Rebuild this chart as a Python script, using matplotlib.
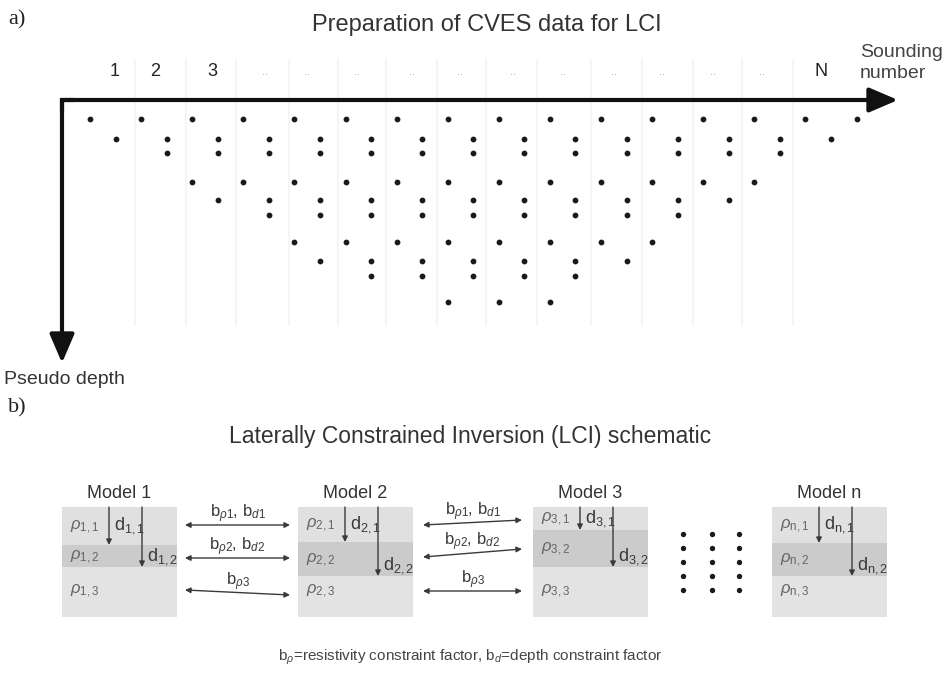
import numpy as np
import matplotlib.pyplot as plt
from matplotlib.patches import Rectangle, FancyArrowPatch

plt.rcParams['font.family'] = ['Liberation Sans', 'DejaVu Sans']
plt.rcParams['mathtext.fontset'] = 'custom'
plt.rcParams['mathtext.rm'] = 'Liberation Sans'
plt.rcParams['mathtext.it'] = 'Liberation Sans:italic'

W, H = 947, 673

# a) pseudosección: niveles de profundidad (px bajo el eje) y rango de posiciones
#    (en medios pasos de sondeo) de cada fila de datos
niveles = [19, 39, 53, 82, 100, 115, 142, 161, 176, 202]
inicio = [0, 1, 3, 4, 5, 7, 8, 9, 11, 14]
fin = [30, 29, 27, 26, 25, 23, 22, 21, 19, 18]

# etiquetas de los sondeos y su posición (medios pasos)
etiquetas = ['1', '2', '3'] + ['..'] * 11 + ['N']
pos_etiquetas = [0.95, 2.55, 4.8, 6.85, 8.5, 10.45, 12.6, 14.5, 16.55,
                 18.5, 20.5, 22.4, 24.4, 26.3, 28.6]
separadores = [1.75, 3.75, 5.7, 7.8, 9.7, 11.6, 13.6, 15.5, 17.5, 19.6,
               21.6, 23.6, 25.5, 27.5]

# b) modelos LCI: profundidad de las interfaces (px bajo el techo de la caja)
modelos = ['1', '2', '3', 'n']
interfaz1 = [38, 35, 23, 36]
interfaz2 = [60, 69, 60, 69]

fig = plt.figure(figsize=(W / 100, H / 100), dpi=100)

# ---------------- panel a (puntos) ----------------
X0, PASO = 90, 25.55
axa = fig.add_axes([62 / W, 1 - 380 / H, 835 / W, 340 / H])
axa.set_xlim((62 - X0) / PASO, (897 - X0) / PASO)
axa.set_ylim(280, -60)
axa.axis('off')
axa.set_zorder(0)

ax = fig.add_axes([0, 0, 1, 1])
ax.set_xlim(0, W)
ax.set_ylim(H, 0)
ax.axis('off')
ax.set_zorder(1)

GRIS = '#3a3a3a'

for s in separadores:
    axa.plot([s, s], [-40, 225], color='#f5f5f5', lw=1.5, zorder=0)

for y, a, b in zip(niveles, inicio, fin):
    xs = np.arange(a, b + 1, 2)
    axa.scatter(xs, [y] * len(xs), s=10, color='#1a1a1a', zorder=3)

for t, p in zip(etiquetas, pos_etiquetas):
    if t == '..':
        axa.text(p, -28, t, ha='center', va='center', fontsize=8, color='#a0a0a0')
    else:
        axa.text(p, -28, t, ha='center', va='center', fontsize=13, color='#222222')

# ejes con flechas
ax.annotate('', xy=(898, 100), xytext=(62, 100),
            arrowprops=dict(arrowstyle='-|>,head_length=0.7,head_width=0.3',
                            lw=3, color='#111111', mutation_scale=25,
                            shrinkA=0, shrinkB=0))
ax.annotate('', xy=(62, 363), xytext=(62, 100),
            arrowprops=dict(arrowstyle='-|>,head_length=0.7,head_width=0.3',
                            lw=3, color='#111111', mutation_scale=25,
                            shrinkA=0, shrinkB=0))
ax.plot([62, 62, 72], [110, 100, 100], lw=3, color='#111111',
        solid_joinstyle='miter', solid_capstyle='projecting')

ax.text(8, 20, 'a)', fontsize=16, family='Liberation Serif', va='center', color='#222222')
ax.text(487, 25, 'Preparation of CVES data for LCI', fontsize=17,
        ha='center', va='center', color='#333333')
ax.text(860, 63, 'Sounding\nnumber', fontsize=14, ha='left', va='center',
        color='#444444', linespacing=1.3)
ax.text(4, 379, 'Pseudo depth', fontsize=14, ha='left', va='center', color='#333333')

# ---------------- panel b ----------------
ax.text(8, 408, 'b)', fontsize=16, family='Liberation Serif', va='center', color='#222222')
ax.text(470, 437, 'Laterally Constrained Inversion (LCI) schematic', fontsize=16.5,
        ha='center', va='center', color='#333333')

caja_x = [62, 298, 533, 772]
TOP, BOT, ANCHO = 507, 617, 115
colores = ['#e0e0e0', '#cbcbcb', '#e3e3e3']

for m, x, d1, d2 in zip(modelos, caja_x, interfaz1, interfaz2):
    limites = [TOP, TOP + d1, TOP + d2, BOT]
    for k in range(3):
        ax.add_patch(Rectangle((x, limites[k]), ANCHO, limites[k + 1] - limites[k],
                               facecolor=colores[k], edgecolor='none'))
    ax.text(x + ANCHO / 2, 493, 'Model ' + m, fontsize=13, ha='center',
            va='center', color='#333333')
    # resistividades
    ax.text(x + 8, (limites[0] + limites[1]) / 2 + 1, r'$\rho_{\mathrm{%s,1}}$' % m,
            fontsize=12, color='#666666', va='center')
    ax.text(x + 8, (limites[1] + limites[2]) / 2 + 1, r'$\rho_{\mathrm{%s,2}}$' % m,
            fontsize=12, color='#666666', va='center')
    ax.text(x + 8, TOP + 84, r'$\rho_{\mathrm{%s,3}}$' % m, fontsize=12,
            color='#666666', va='center')
    # espesores / profundidades
    for xa, yb in [(x + 47, limites[1]), (x + 80, limites[2])]:
        ax.add_patch(FancyArrowPatch((xa, TOP), (xa, yb), arrowstyle='-|>',
                                     mutation_scale=8, lw=1, color=GRIS,
                                     shrinkA=0, shrinkB=0))
    ax.text(x + 52, (TOP + limites[1]) / 2, r'$\mathrm{d}_{\mathrm{%s,1}}$' % m,
            fontsize=13, color=GRIS, va='center')
    ax.text(x + 85, limites[2] - 10, r'$\mathrm{d}_{\mathrm{%s,2}}$' % m,
            fontsize=13, color=GRIS, va='center')

# restricciones laterales
conexiones = [
    (185, 290, [(525, 525), (558, 558), (590, 595)]),
    (423, 522, [(525, 520), (557, 549), (591, 591)]),
]
textos_b = [r'$\mathrm{b}_{\rho1}$, $\mathrm{b}_{d1}$',
            r'$\mathrm{b}_{\rho2}$, $\mathrm{b}_{d2}$',
            r'$\mathrm{b}_{\rho3}$']
for xi, xf, filas in conexiones:
    for (yi, yf), t in zip(filas, textos_b):
        ax.add_patch(FancyArrowPatch((xi, yi), (xf, yf), arrowstyle='<|-|>',
                                     mutation_scale=8, lw=1, color=GRIS,
                                     shrinkA=0, shrinkB=0))
        ax.text((xi + xf) / 2, (yi + yf) / 2 - 11, t, fontsize=12, ha='center',
                va='center', color=GRIS)

# puntos suspensivos entre el modelo 3 y el n
px = [683, 712, 739]
py = [534, 548, 562, 576, 590]
gx, gy = np.meshgrid(px, py)
ax.scatter(gx.ravel(), gy.ravel(), s=8, color='#1a1a1a')

ax.text(470, 657, r'$\mathrm{b}_{\rho}$=resistivity constraint factor, '
        r'$\mathrm{b}_{d}$=depth constraint factor', fontsize=11, ha='center',
        va='center', color='#444444')

fig.savefig('out.png', dpi=100)
